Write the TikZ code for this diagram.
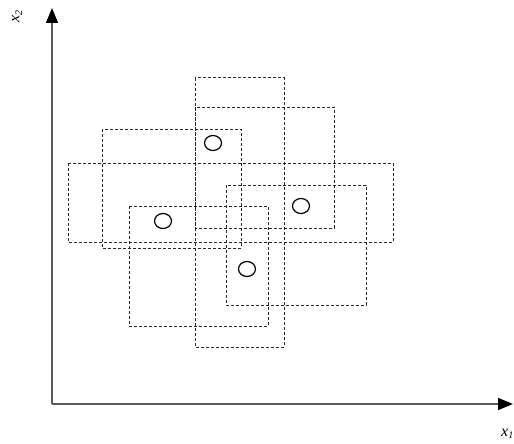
\documentclass[tikz,border=0pt]{standalone}
\usepackage{fontspec}
\setmainfont{Liberation Serif}
\usetikzlibrary{arrows.meta}
\begin{document}
\begin{tikzpicture}[x=1pt,y=-1pt,
  box/.style={draw=black!85,line width=1pt,dash pattern=on 3pt off 2pt},
  pt/.style={draw=black,line width=1.2pt},
  axis/.style={draw=black!65,line width=1.6pt,-{Triangle[length=15pt,width=12pt,fill=black,color=black]}},
  lab/.style={font=\fontsize{16}{16}\selectfont\itshape,inner sep=0pt}]
\useasboundingbox (0,0) rectangle (514,444);
\coordinate (O) at (52,404);
\coordinate (Y) at (52,8);
\coordinate (X) at (513,404);
\draw[axis] (O) -- (Y);
\draw[axis] (O) -- (X);
\node[lab,rotate=90] (lx2) at (17,16) {x\textsubscript{\fontsize{10}{10}\selectfont 2}};
\node[lab,anchor=west] (lx1) at (501,434) {x\textsubscript{\fontsize{10}{10}\selectfont 1}};
% rectangles
\draw[box] (195,78) rectangle (284,347);
\draw[box] (195,107) rectangle (334,228);
\draw[box] (102,129) rectangle (241,248);
\draw[box] (68,163) rectangle (393,242);
\draw[box] (226,185) rectangle (366,305);
\draw[box] (129,206) rectangle (268,326);
% points
\draw[pt] (213,143) ellipse (8.5pt and 7.5pt);
\draw[pt] (301,206) ellipse (8.5pt and 7.5pt);
\draw[pt] (163,221) ellipse (8.5pt and 7.5pt);
\draw[pt] (247,269) ellipse (8.5pt and 7.5pt);
\end{tikzpicture}
\end{document}
